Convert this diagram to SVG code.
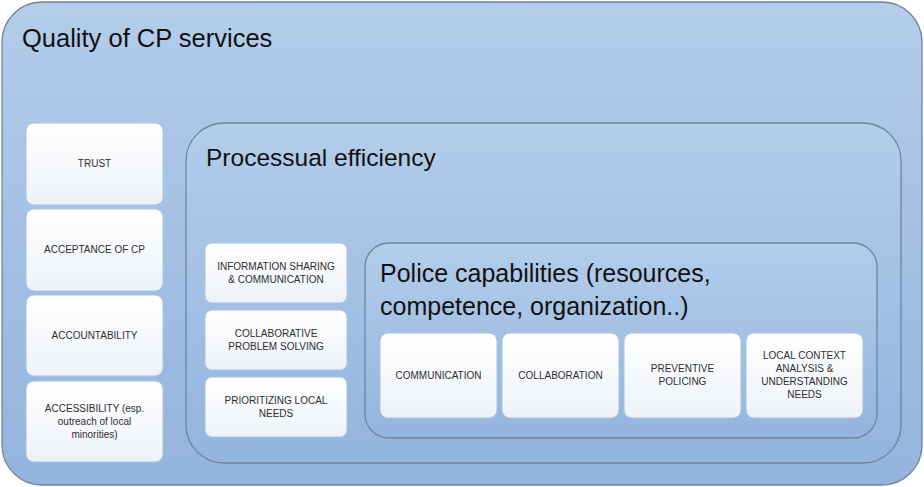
<svg xmlns="http://www.w3.org/2000/svg" width="924" height="487" viewBox="0 0 924 487">
  <defs>
    <linearGradient id="panelFill" x1="0" y1="0" x2="0" y2="1">
      <stop offset="0" stop-color="#B3CDEA"/>
      <stop offset="1" stop-color="#93B4DE"/>
    </linearGradient>
    <linearGradient id="cardFill" x1="0" y1="0" x2="0" y2="1">
      <stop offset="0" stop-color="#FFFFFF"/>
      <stop offset="1" stop-color="#EEF2F8"/>
    </linearGradient>
  </defs>
  <style>
    .panel { fill: url(#panelFill); stroke: #73839A; stroke-width: 1.3; }
    .card { fill: url(#cardFill); stroke: #A9C2E2; stroke-width: 1; }
    .title { font-family: "Liberation Sans", Arial, sans-serif; fill: #111111; }
    .lbl { font-family: "Liberation Sans", Arial, sans-serif; font-size: 10px; fill: #2E2E2E; text-anchor: middle; }
  </style>

  <g id="quality">
    <rect class="panel" x="2" y="2" width="920" height="483" rx="40" ry="40"/>
    <text class="title" x="22" y="47" font-size="25.5">Quality of CP services</text>
  </g>

  <g id="trust">
    <rect class="card" x="26" y="123" width="137" height="82" rx="8"/>
    <text class="lbl" x="94.5" y="167">TRUST</text>
  </g>
  <g id="acceptance">
    <rect class="card" x="26" y="209" width="137" height="82" rx="8"/>
    <text class="lbl" x="94.5" y="253">ACCEPTANCE OF CP</text>
  </g>
  <g id="accountability">
    <rect class="card" x="26" y="295" width="137" height="81" rx="8"/>
    <text class="lbl" x="94.5" y="339">ACCOUNTABILITY</text>
  </g>
  <g id="accessibility">
    <rect class="card" x="26" y="381" width="137" height="81" rx="8"/>
    <text class="lbl" x="94.5" y="412">ACCESSIBILITY (esp.</text>
    <text class="lbl" x="94.5" y="425">outreach of local</text>
    <text class="lbl" x="94.5" y="438">minorities)</text>
  </g>

  <g id="processual">
    <rect class="panel" x="186" y="123" width="715" height="340" rx="38" ry="38"/>
    <text class="title" x="206" y="166" font-size="24.5">Processual efficiency</text>
  </g>

  <g id="info-sharing">
    <rect class="card" x="205" y="243" width="142" height="60" rx="7"/>
    <text class="lbl" x="276" y="270">INFORMATION SHARING</text>
    <text class="lbl" x="276" y="283">&amp; COMMUNICATION</text>
  </g>
  <g id="problem-solving">
    <rect class="card" x="205" y="310" width="142" height="60" rx="7"/>
    <text class="lbl" x="276" y="337">COLLABORATIVE</text>
    <text class="lbl" x="276" y="350">PROBLEM SOLVING</text>
  </g>
  <g id="local-needs">
    <rect class="card" x="205" y="377" width="142" height="60" rx="7"/>
    <text class="lbl" x="276" y="404">PRIORITIZING LOCAL</text>
    <text class="lbl" x="276" y="417">NEEDS</text>
  </g>

  <g id="capabilities">
    <rect class="panel" x="365" y="243" width="512" height="195" rx="24" ry="24"/>
    <text class="title" x="380" y="282" font-size="25">Police capabilities (resources,</text>
    <text class="title" x="380" y="315" font-size="25">competence, organization..)</text>
  </g>

  <g id="communication">
    <rect class="card" x="380" y="333" width="117" height="85" rx="8"/>
    <text class="lbl" x="438.5" y="379">COMMUNICATION</text>
  </g>
  <g id="collaboration">
    <rect class="card" x="502" y="333" width="117" height="85" rx="8"/>
    <text class="lbl" x="560.5" y="379">COLLABORATION</text>
  </g>
  <g id="preventive">
    <rect class="card" x="624" y="333" width="117" height="85" rx="8"/>
    <text class="lbl" x="682.5" y="372">PREVENTIVE</text>
    <text class="lbl" x="682.5" y="385">POLICING</text>
  </g>
  <g id="local-context">
    <rect class="card" x="746" y="333" width="117" height="85" rx="8"/>
    <text class="lbl" x="804.5" y="359">LOCAL CONTEXT</text>
    <text class="lbl" x="804.5" y="372">ANALYSIS &amp;</text>
    <text class="lbl" x="804.5" y="385">UNDERSTANDING</text>
    <text class="lbl" x="804.5" y="398">NEEDS</text>
  </g>

  <g id="connectors"/>
</svg>
